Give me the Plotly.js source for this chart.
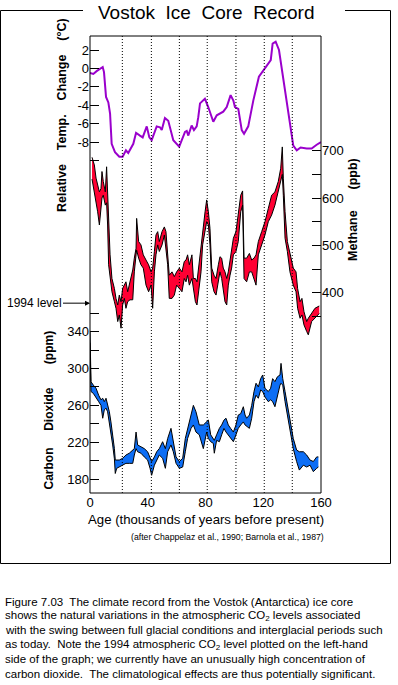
<!DOCTYPE html>
<html>
<head>
<meta charset="utf-8">
<script src="https://cdn.plot.ly/plotly-3.0.1.min.js"></script>
<style>
  html, body { margin: 0; padding: 0; background: #fff; }
  #chart { width: 398px; height: 685px; }
</style>
</head>
<body>
<div id="chart"></div>
<script>
// ---------- data ----------
const tempAge = [0, 2.3, 4.6, 6.9, 8.8, 9.7, 11.1, 12.7, 13.9, 15.0, 17.3, 20.3, 22.6, 24.9, 26.5, 30.0, 31.9, 34.6, 36.5, 39.3, 41.1, 42.7, 46.2, 48.5, 49.7, 51.9, 54.2, 57.7, 61.8, 65.8, 67.0, 68.1, 70.4, 72.0, 73.9, 75.0, 76.2, 79.6, 81.9, 85.4, 87.8, 92.3, 94.7, 97.4, 99.3, 100.4, 102.7, 105.1, 106.7, 109.6, 113.1, 117.0, 121.2, 125.2, 126.5, 128.6, 130.9, 132.8, 135.7, 138.5, 140.8, 143.2, 145.9, 150.1, 153.5, 157.0, 160];
const tempVal = [-0.5, -0.6, -0.3, 0, 0.15, -0.4, -3.1, -3.7, -4.9, -8.2, -9.1, -9.6, -9.6, -8.9, -9.2, -8.2, -7.0, -7.3, -7.5, -6.3, -7.5, -7.8, -6.3, -6.4, -6.7, -5.4, -5.7, -7.8, -8.5, -6.9, -6.8, -7.3, -6.2, -6.7, -6.3, -5.3, -3.8, -3.3, -4.2, -5.8, -5.1, -4.7, -4.2, -2.9, -3.5, -4.2, -4.4, -6.7, -7.1, -6.3, -3.5, -0.9, 0, 0.9, 2.7, 2.9, 2.0, 0.1, -3.1, -5.7, -8.4, -8.9, -8.6, -8.7, -8.7, -8.3, -8.0];

const ch4Age = [1.4, 3.0, 4.2, 5.3, 6.5, 7.6, 8.3, 9.2, 10.6, 11.5, 12.2, 12.9, 13.9, 15.2, 16.9, 18.0, 19.2, 20.3, 21.5, 22.6, 23.8, 24.9, 26.1, 27.7, 29.6, 30.7, 31.9, 32.3, 33.7, 35.3, 36.9, 38.8, 40.6, 42.3, 43.4, 44.6, 45.7, 46.9, 48.0, 49.9, 51.5, 52.6, 53.8, 54.9, 56.8, 58.4, 60.0, 61.9, 63.7, 65.3, 66.5, 67.6, 68.8, 70.6, 71.6, 73.0, 74.1, 75.7, 76.9, 78.0, 79.7, 80.8, 82.0, 83.1, 84.3, 85.9, 87.3, 88.9, 90.0, 91.2, 92.3, 93.5, 94.7, 95.8, 97.0, 98.1, 99.3, 101.1, 102.7, 104.4, 105.7, 106.7, 108.5, 110.4, 112.0, 113.6, 115.0, 116.6, 118.9, 121.2, 123.5, 125.8, 128.1, 130.4, 132.1, 133.2, 133.9, 135.1, 136.7, 138.5, 140.8, 142.7, 143.8, 145.5, 146.8, 148.2, 150.1, 151.2, 153.5, 155.8, 158.8];
const ch4High = [686, 670, 642, 627, 613, 620, 656, 635, 613, 666, 620, 550, 480, 430, 409, 388, 374, 395, 381, 409, 416, 423, 402, 423, 448, 473, 494, 557, 508, 501, 480, 469, 459, 444, 452, 487, 522, 529, 508, 529, 539, 529, 480, 437, 444, 434, 444, 452, 444, 466, 469, 480, 459, 480, 430, 430, 423, 466, 494, 536, 571, 596, 571, 536, 452, 437, 430, 459, 476, 473, 452, 444, 430, 444, 466, 487, 515, 529, 571, 606, 615, 473, 473, 483, 469, 473, 480, 508, 529, 550, 578, 606, 613, 635, 663, 708, 642, 571, 508, 480, 452, 444, 409, 381, 388, 360, 339, 346, 356, 367, 372];
const ch4Low = [640, 613, 592, 571, 543, 592, 600, 606, 585, 590, 543, 459, 437, 402, 381, 367, 339, 353, 325, 374, 388, 367, 381, 385, 385, 444, 480, 490, 473, 459, 452, 416, 402, 416, 367, 444, 480, 501, 487, 501, 522, 487, 459, 388, 388, 395, 416, 409, 402, 430, 423, 437, 416, 430, 409, 381, 374, 423, 444, 501, 536, 550, 543, 501, 423, 402, 395, 430, 444, 430, 409, 381, 374, 416, 437, 452, 480, 487, 508, 571, 585, 430, 423, 444, 444, 430, 416, 480, 501, 522, 550, 564, 585, 613, 635, 650, 606, 515, 487, 444, 416, 402, 367, 346, 353, 332, 318, 311, 339, 346, 356];

const co2Age = [0, 0.35, 0.7, 2.3, 4.2, 6.0, 7.6, 8.8, 9.9, 11.1, 12.2, 13.4, 14.5, 15.7, 16.9, 17.5, 18.5, 20.3, 22.6, 24.9, 27.2, 29.6, 30.7, 31.9, 33.0, 35.3, 37.6, 39.9, 41.6, 42.7, 44.6, 46.2, 48.0, 50.3, 52.2, 53.8, 56.1, 57.7, 59.6, 61.9, 64.2, 66.0, 67.6, 70.0, 71.6, 73.4, 75.7, 78.5, 80.8, 82.0, 83.6, 85.4, 86.1, 87.7, 89.6, 91.2, 92.8, 94.2, 95.8, 97.4, 99.3, 101.1, 102.7, 104.4, 106.2, 107.4, 108.5, 110.4, 112.0, 113.6, 115.0, 116.6, 118.2, 119.6, 121.2, 123.5, 125.1, 126.5, 128.1, 129.8, 131.6, 132.3, 133.5, 135.1, 136.7, 138.5, 140.8, 143.1, 145.0, 147.8, 150.1, 152.4, 154.7, 157.0, 158.2];
const co2High = [340, 310, 285.7, 282, 278.5, 271, 266, 267.7, 264, 267.7, 262, 253, 242, 228, 213, 200.6, 200.6, 200.6, 202.5, 206, 208, 211.5, 213, 231, 217, 215, 213, 209.6, 202.5, 199, 204, 209.6, 213, 220.5, 213, 224, 235, 220.5, 204, 199, 202.5, 224, 235, 249.5, 260, 253, 238.7, 238.7, 242, 244, 228, 224, 222, 228, 235, 238.7, 244, 246, 238.7, 235, 231, 238.7, 249.5, 251, 258.5, 249.5, 246, 249.5, 260, 275, 284, 280, 289, 293, 278.5, 275, 278.5, 289, 285.7, 291, 293, 305.6, 289, 275, 260, 242, 224, 211.5, 209.6, 209.6, 206, 200.6, 199, 204, 204];
const co2Low = [328, 292, 275, 273, 269, 264, 260, 246, 255, 257, 253, 242, 231, 217, 202, 186, 191.6, 193, 195, 197, 197, 197, 206, 213, 209.6, 208, 204, 200.6, 191.6, 184, 195, 200.6, 206, 202.5, 191.6, 209.6, 217, 209.6, 197, 191.6, 193, 209.6, 224, 235, 238.7, 231, 228, 213, 231, 224, 220.5, 218.7, 208, 222, 220.5, 228, 235, 231, 228, 224, 220.5, 228, 235, 238.7, 242, 238.7, 237, 235, 246, 264, 271, 267.7, 276.7, 275, 269, 264, 266, 264, 258.5, 271, 282, 284, 282, 264, 249.5, 231, 213, 199, 189.7, 195, 193, 195, 188, 191.6, 193];

const co2Level1994 = 371;
const dividerAges = [22.4, 42.5, 61.9, 81.2, 101.1, 120.7, 140.1];

const xTickVals = [0, 40, 80, 120, 160];
const tempTickVals = [2, 0, -2, -4, -6, -8];
const tempTickText = ['2', '0', '-2', '-4', '-6', '-8'];
const tempMinorVals = [-10];
const ch4TickVals = [700, 600, 500, 400];
const ch4MinorVals = [650, 550, 450, 350];
const co2LeftTickVals = [340, 300, 260, 220, 180];
const co2LeftMinorVals = [360, 320, 280, 240, 200];
const co2RightTickVals = [300, 260, 220, 180];
const co2RightMinorVals = [280, 240, 200];

const captionLines = [
  'Figure 7.03  The climate record from the Vostok (Antarctica) ice core',
  'shows the natural variations in the atmospheric CO<sub>2</sub> levels associated',
  'with the swing between full glacial conditions and interglacial periods such',
  'as today.  Note the 1994 atmospheric CO<sub>2</sub> level plotted on the left-hand',
  'side of the graph; we currently have an unusually high concentration of',
  'carbon dioxide.  The climatological effects are thus potentially significant.'
];

// ---------- layout helpers ----------
const W = 398, H = 685;
const px = x => x / W;
const py = y => 1 - y / H;
const TOP = 36, BOT = 493, LEFT = 90, RIGHT = 321;
function rangeFrom(v1, p1, v2, p2) {
  const s = (v2 - v1) / (p2 - p1);
  return [v1 + (BOT - p1) * s, v1 + (TOP - p1) * s];
}
const tempRange = rangeFrom(2, 50, -8, 142);
const ch4Range = rangeFrom(700, 150.7, 400, 292.7);
const co2Range = rangeFrom(340, 331.7, 180, 479);
const nb = n => '\u00a0'.repeat(n);
const FONT = 'Liberation Sans, Arial, Helvetica, sans-serif';

const traces = [
  { x: tempAge, y: tempVal, yaxis: 'y', mode: 'lines', line: { color: '#9a00cc', width: 2 }, hoverinfo: 'skip' },
  { x: ch4Age, y: ch4Low, yaxis: 'y2', mode: 'lines', line: { color: '#000', width: 1 }, hoverinfo: 'skip' },
  { x: ch4Age, y: ch4High, yaxis: 'y2', mode: 'lines', fill: 'tonexty', fillcolor: '#ff0033', line: { color: '#000', width: 1 }, hoverinfo: 'skip' },
  { x: co2Age, y: co2Low, yaxis: 'y3', mode: 'lines', line: { color: '#000', width: 1 }, hoverinfo: 'skip' },
  { x: co2Age, y: co2High, yaxis: 'y3', mode: 'lines', fill: 'tonexty', fillcolor: '#0d6ef5', line: { color: '#000', width: 1 }, hoverinfo: 'skip' }
];

function yAxis(range, vals, minorVals, side, extra) {
  return Object.assign({
    domain: [py(BOT), py(TOP)], range: range, side: side,
    tickmode: 'array', tickvals: vals, ticktext: vals.map(String),
    showgrid: false, zeroline: false, showline: false,
    ticks: 'inside', ticklen: 9, tickwidth: 1, tickcolor: '#000',
    tickfont: { size: 13, color: '#000' }, fixedrange: true,
    minor: { tickmode: 'array', tickvals: minorVals, ticks: 'inside', ticklen: 9, tickwidth: 1, tickcolor: '#000', showgrid: false }
  }, extra || {});
}

const shapes = [];
dividerAges.forEach(a => shapes.push({
  type: 'line', xref: 'x', yref: 'paper', x0: a, x1: a, y0: py(BOT), y1: py(TOP),
  line: { color: '#000', width: 1, dash: '1px,2px' }, layer: 'above'
}));
shapes.push({
  type: 'rect', xref: 'paper', yref: 'paper', x0: px(LEFT), x1: px(RIGHT), y0: py(BOT), y1: py(TOP),
  line: { color: '#000', width: 1 }
});
shapes.push({
  type: 'path', xref: 'paper', yref: 'paper',
  path: `M ${px(345)},${py(10.5)} L ${px(390.5)},${py(10.5)} L ${px(390.5)},${py(563.5)} L ${px(0.5)},${py(563.5)} L ${px(0.5)},${py(10.5)} L ${px(83)},${py(10.5)}`,
  line: { color: '#000', width: 1 }
});

const annotations = [
  { text: 'Vostok' + nb(2) + 'Ice' + nb(2) + 'Core' + nb(2) + 'Record', xref: 'paper', yref: 'paper',
    x: px(206.5), y: py(12.5), xanchor: 'center', yanchor: 'middle', showarrow: false, font: { size: 19 } },
  { text: '<b>Relative' + nb(4) + 'Temp.' + nb(4) + 'Change' + nb(4) + '(°C)</b>', xref: 'paper', yref: 'paper',
    x: px(62), y: py(115), textangle: -90, xanchor: 'center', yanchor: 'middle', showarrow: false, font: { size: 12.5 } },
  { text: '<b>Carbon' + nb(5) + 'Dioxide' + nb(7) + '(ppm)</b>', xref: 'paper', yref: 'paper',
    x: px(48), y: py(410.5), textangle: -90, xanchor: 'center', yanchor: 'middle', showarrow: false, font: { size: 12 } },
  { text: '<b>Methane' + nb(6) + '(ppb)</b>', xref: 'paper', yref: 'paper',
    x: px(353), y: py(210), textangle: -90, xanchor: 'center', yanchor: 'middle', showarrow: false, font: { size: 12.5 } },
  { text: 'Age (thousands of years before present)', xref: 'paper', yref: 'paper',
    x: px(205.5), y: py(519), xanchor: 'center', yanchor: 'middle', showarrow: false, font: { size: 13.2 } },
  { text: '1994 level', xref: 'x', yref: 'y3', x: 0, y: co2Level1994, ax: -56, ay: 0,
    showarrow: true, arrowhead: 2, arrowsize: 1, arrowwidth: 1, arrowcolor: '#000', standoff: 0,
    font: { size: 12 } },
  { text: '(after Chappelaz et al., 1990; Barnola et al., 1987)', xref: 'paper', yref: 'paper',
    x: px(227.5), y: py(537.3), xanchor: 'center', yanchor: 'middle', showarrow: false, font: { size: 8.7 } }
];
const captionY = [601.7, 616, 630.4, 644.8, 659.3, 673.6];
captionLines.forEach((t, i) => annotations.push({
  text: t, xref: 'paper', yref: 'paper', x: px(3), y: py(captionY[i]),
  xanchor: 'left', yanchor: 'middle', showarrow: false, font: { size: 11.5 }
}));

const layout = {
  width: W, height: H,
  margin: { l: 0, r: 0, t: 0, b: 0, pad: 0 },
  paper_bgcolor: '#fff', plot_bgcolor: 'rgba(0,0,0,0)',
  font: { family: FONT, color: '#000' },
  showlegend: false, hovermode: false,
  xaxis: {
    domain: [px(LEFT), px(RIGHT)], range: [0, 160], tickmode: 'array', tickvals: xTickVals,
    ticks: '', showgrid: false, zeroline: false, showline: false,
    tickfont: { size: 13, color: '#000' }, anchor: 'y', fixedrange: true
  },
  yaxis: yAxis(tempRange, tempTickVals, tempMinorVals, 'left', { ticktext: tempTickText }),
  yaxis2: yAxis(ch4Range, ch4TickVals, ch4MinorVals, 'right', { overlaying: 'y', anchor: 'x' }),
  yaxis3: yAxis(co2Range, co2LeftTickVals, co2LeftMinorVals, 'left', { overlaying: 'y', anchor: 'x' }),
  yaxis4: yAxis(co2Range, co2RightTickVals, co2RightMinorVals, 'right', { overlaying: 'y', anchor: 'x' }),
  shapes: shapes,
  annotations: annotations
};

Plotly.newPlot('chart', traces, layout, { staticPlot: true, displayModeBar: false });
</script>
</body>
</html>
